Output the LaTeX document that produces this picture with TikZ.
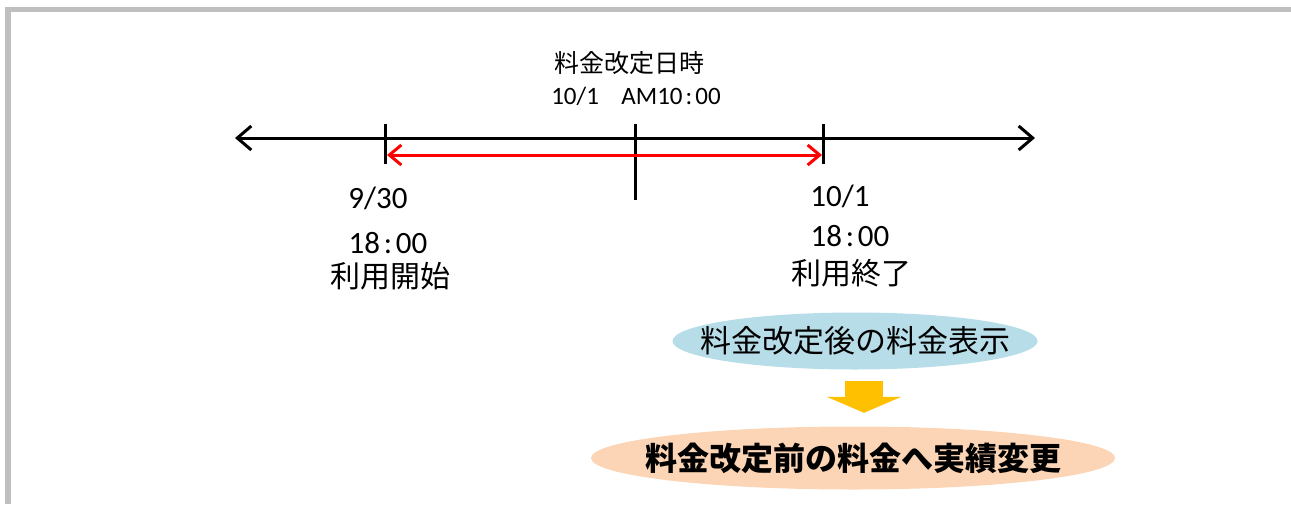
\documentclass[tikz,border=0pt]{standalone}
\usepackage{fontspec}
\newfontfamily\jp{Noto Sans CJK JP}
\newfontfamily\lat{Carlito}
\usetikzlibrary{arrows.meta,shapes.geometric,calc}
\definecolor{framegray}{HTML}{BFBFBF}
\definecolor{blueell}{HTML}{B7DDE8}
\definecolor{peach}{HTML}{FBD5B5}
\definecolor{yel}{HTML}{FFC000}
\newcommand{\tcolon}{\hspace{0.12em}:\hspace{0.12em}}
\tikzset{
  frameline/.style={draw=framegray,line width=5.5pt},
  axis/.style={line width=3pt,black,{Straight Barb[length=14pt 0 0,width=24pt 0 0]}-{Straight Barb[length=14pt 0 0,width=24pt 0 0]}},
  tick/.style={line width=3pt,black},
  span/.style={line width=3pt,red,{Straight Barb[length=12pt 0 0,width=20pt 0 0]}-{Straight Barb[length=12pt 0 0,width=20pt 0 0]}},
  lbl/.style={inner sep=0pt,anchor=center},
  ell/.style={ellipse,draw=none,inner sep=0pt},
  yarrow/.style={draw=yel,line width=38pt,line cap=butt,-{Triangle[length=16pt 0 0,width=74pt 0 0]}},
}
\begin{document}
\begin{tikzpicture}[x=1pt,y=-1pt]
\useasboundingbox (0,0) rectangle (1291,504);
\fill[white] (0,0) rectangle (1291,504);
\draw[frameline] (8,504) -- (8,9.5) -- (1291,9.5);

% timeline
\coordinate (L) at (235,138);
\coordinate (R) at (1035,138);
\draw[axis] (L) -- (R);
\coordinate (t1a) at (385,124); \coordinate (t1b) at (385,164);
\coordinate (t2a) at (635,124); \coordinate (t2b) at (635,200);
\coordinate (t3a) at (823,124); \coordinate (t3b) at (823,164);
\draw[tick] (t1a) -- (t1b);
\draw[tick] (t2a) -- (t2b);
\draw[tick] (t3a) -- (t3b);
\coordinate (s1) at (387,155);
\coordinate (s2) at (822,155);
\draw[span] (s1) -- (s2);

% labels
\node[lbl] (top1) at (629,63) {\fontsize{25}{28}\selectfont\jp 料金改定日時};
\node[lbl] (top2) at (636,96) {\fontsize{25}{28}\selectfont\lat 10/1\hspace{0.9em}AM10\tcolon 00};
\node[lbl] (d1) at (378,198) {\fontsize{31}{36}\selectfont\lat 9/30};
\node[lbl] (h1) at (388,243) {\fontsize{31}{36}\selectfont\lat 18\tcolon 00};
\node[lbl] (u1) at (390,276) {\fontsize{30}{36}\selectfont\jp 利用開始};
\node[lbl] (d2) at (840,196) {\fontsize{31}{36}\selectfont\lat 10/1};
\node[lbl] (h2) at (850,236) {\fontsize{31}{36}\selectfont\lat 18\tcolon 00};
\node[lbl] (u2) at (851,273) {\fontsize{30}{36}\selectfont\jp 利用終了};

% ellipses
\node[ell,fill=blueell,minimum width=365pt,minimum height=57pt] (after) at (855,341) {};
\node[lbl] (aftertext) at (after.center) {\fontsize{31}{36}\selectfont\jp 料金改定後の料金表示};
\node[ell,fill=peach,minimum width=524pt,minimum height=63pt] (before) at (853,458) {};
\node[lbl] (beforetext) at (before.center) {\fontsize{32}{38}\selectfont\jp\bfseries 料金改定前の料金へ実績変更};

\draw[yarrow] ($(after.south)+(9,11.5)$) -- ($(before.north)+(11,-13.5)$);
\end{tikzpicture}
\end{document}
